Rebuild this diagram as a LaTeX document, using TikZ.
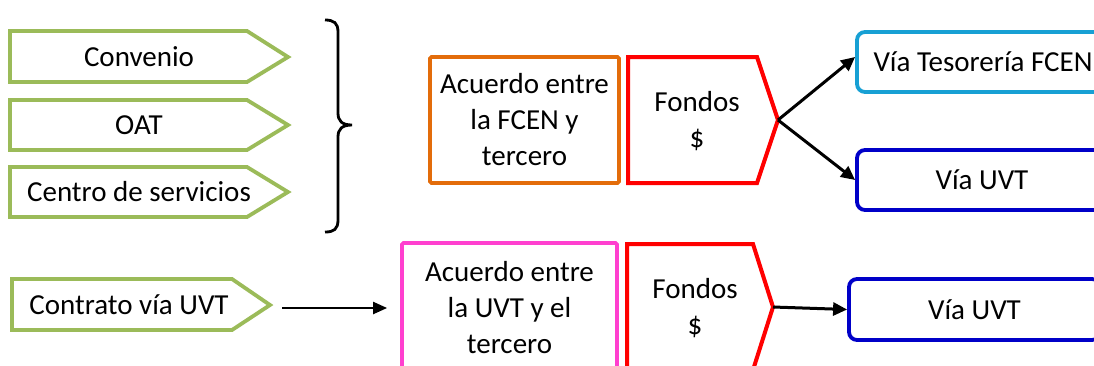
\documentclass[tikz,border=0pt]{standalone}
\usepackage{fontspec}
\setmainfont{Carlito}
\usetikzlibrary{arrows.meta}
\definecolor{grn}{HTML}{9BBB59}
\definecolor{org}{HTML}{E36C0A}
\definecolor{pnk}{HTML}{FF3FCF}
\definecolor{cyn}{HTML}{17A0D4}
\definecolor{dblue}{HTML}{0000C8}
\tikzset{
  tipo/.style={draw=grn,line width=3.8pt},
  fondo/.style={draw=red,line width=4pt},
  acuerdo/.style={draw=#1,line width=3.8pt,rounded corners=1.5pt,align=center,inner sep=0pt},
  via/.style={draw=#1,line width=3.8pt,rounded corners=8pt,inner sep=0pt},
  flecha/.style={line width=3pt,-{Triangle[length=14pt,width=13pt]}}
}
\begin{document}
\begin{tikzpicture}[x=1pt,y=-1pt,font=\fontsize{29}{36}\selectfont]
\useasboundingbox (0,0) rectangle (1094,365);
\clip (0,0) rectangle (1094,365);
% tipos de acuerdo
\draw[tipo] (10,31) -- (247,31) -- (288,57) -- (247,82) -- (10,82) -- cycle;
\draw[tipo] (10,100) -- (247,100) -- (288,125) -- (247,150) -- (10,150) -- cycle;
\draw[tipo] (10,167) -- (247,167) -- (288,192) -- (247,217) -- (10,217) -- cycle;
\draw[tipo] (12,279) -- (232,279) -- (270,305) -- (232,330) -- (12,330) -- cycle;
\node (conv) at (139,57) {Convenio};
\node (oat) at (139,125) {OAT};
\node (cser) at (139,192) {Centro de servicios};
\node (cuvt) at (129,305) {Contrato vía UVT};
\coordinate (cuvttip) at (270,305);
% llave
\draw[line width=2.8pt] (325,20) .. controls (334,20) and (338,23) .. (338,32) -- (338,113)
  .. controls (338,121) and (342,125) .. (352,125) .. controls (342,125) and (338,129) .. (338,137)
  -- (338,220) .. controls (338,229) and (334,232) .. (325,232);
% fila superior
\node[acuerdo=org,minimum width=189,minimum height=126] (acfcen) at (524.5,120)
  {Acuerdo entre\\la FCEN y\\tercero};
\draw[fondo] (628,57) -- (757,57) -- (778,120) -- (757,183) -- (628,183) -- cycle;
\node[align=center] (fofcen) at (697,121) {Fondos\\\$};
\coordinate (fofcentip) at (778,120);
\node[via=cyn,minimum width=252,minimum height=60] (tes) at (983,62) {Vía Tesorería FCEN};
\node[via=dblue,minimum width=250,minimum height=60] (uvta) at (982,180) {Vía UVT};
\draw[flecha] (fofcentip) -- ([yshift=5pt]tes.west);
\draw[flecha] (fofcentip) -- (uvta.west);
% fila inferior
\node[acuerdo=pnk,minimum width=215,minimum height=130] (acuvt) at (509.5,308)
  {Acuerdo entre\\la UVT y el\\tercero};
\draw[fondo] (627,244) -- (753,244) -- (773,307) -- (753,370) -- (627,370) -- cycle;
\node[align=center] (fouvt) at (695,308) {Fondos\\\$};
\coordinate (fouvttip) at (773,307);
\node[via=dblue,minimum width=251,minimum height=61] (uvtb) at (974.5,309.5) {Vía UVT};
\draw[line width=2.2pt,-{Triangle[length=14pt,width=12pt]}] ([xshift=12pt]acuvt.west -| cuvttip) -- ([xshift=-13pt]acuvt.west);
\draw[flecha] (fouvttip) -- (uvtb.west);
\end{tikzpicture}
\end{document}
